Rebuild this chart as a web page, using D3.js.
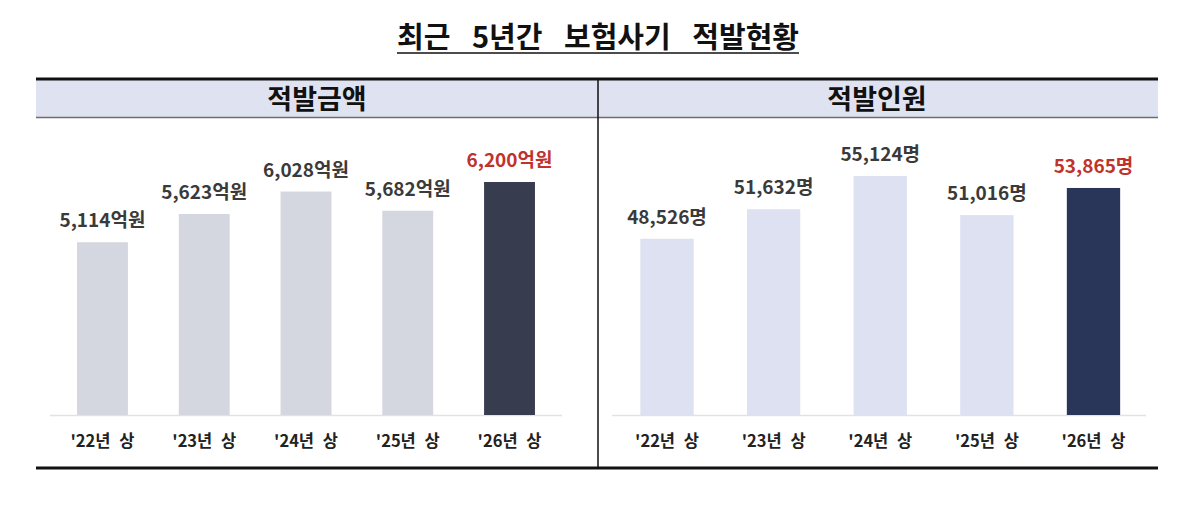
<!DOCTYPE html>
<html>
<head>
<meta charset="utf-8">
<script src="https://cdn.jsdelivr.net/npm/d3@7"></script>
<style>
  body { margin: 0; background: #fff; }
  svg { display: block; font-family: "Noto Sans CJK KR", "Noto Sans", sans-serif; }
</style>
</head>
<body>
<svg width="1198" height="510"></svg>
<script>
// 데이터
var categories = ["'22년 상", "'23년 상", "'24년 상", "'25년 상", "'26년 상"];
var amountValues = [5114, 5623, 6028, 5682, 6200];     // 적발금액 (억원)
var peopleValues = [48526, 51632, 55124, 51016, 53865]; // 적발인원 (명)
var panelTitles = ["적발금액", "적발인원"];
var units = ["억원", "명"];

var svg = d3.select("svg");
var fmt = d3.format(",");

// 제목
var title = svg.append("text")
    .attr("x", 598)
    .attr("y", 48)
    .attr("text-anchor", "middle")
    .attr("font-size", 29)
    .attr("font-weight", 700)
    .attr("fill", "#111")
    .attr("word-spacing", 15)
    .text("최근 5년간 보험사기 적발현황");
var tb = title.node().getBBox();
svg.append("line")
    .attr("x1", tb.x).attr("x2", tb.x + tb.width)
    .attr("y1", 53).attr("y2", 53)
    .attr("stroke", "#111").attr("stroke-width", 1.6);

// 헤더 띠
svg.append("rect")
    .attr("x", 36).attr("y", 80)
    .attr("width", 1122).attr("height", 37)
    .attr("fill", "#dfe2f0");
svg.append("line")
    .attr("x1", 36).attr("x2", 1158).attr("y1", 117.5).attr("y2", 117.5)
    .attr("stroke", "#6e6e6e").attr("stroke-width", 1.5);
svg.append("line")
    .attr("x1", 36).attr("x2", 1158).attr("y1", 79).attr("y2", 79)
    .attr("stroke", "#111").attr("stroke-width", 3);
svg.append("line")
    .attr("x1", 36).attr("x2", 1158).attr("y1", 468).attr("y2", 468)
    .attr("stroke", "#111").attr("stroke-width", 3);
svg.append("line")
    .attr("x1", 598).attr("x2", 598).attr("y1", 79).attr("y2", 468)
    .attr("stroke", "#111").attr("stroke-width", 1.5);

var panels = [
    { values: amountValues, xRange: [51.6, 560.4], yDomain: [2000, 6200], yTop: 182,
      barColor: "#d4d7df", lastColor: "#373c4e", cx: 317, line: [50, 562] },
    { values: peopleValues, xRange: [613.7, 1146.8], yDomain: [30000, 55124], yTop: 176,
      barColor: "#dde1f1", lastColor: "#2a355a", cx: 877, line: [612, 1146] }
];
var baseY = 415;

panels.forEach(function (p, i) {
    var x = d3.scaleBand().domain(categories).range(p.xRange)
        .paddingInner(0.5).paddingOuter(0.25);
    var y = d3.scaleLinear().domain(p.yDomain).range([baseY, p.yTop]);
    var g = svg.append("g");

    g.append("text")
        .attr("x", p.cx).attr("y", 109)
        .attr("text-anchor", "middle")
        .attr("font-size", 27).attr("font-weight", 700).attr("fill", "#111")
        .text(panelTitles[i]);

    // 기준선
    g.append("line")
        .attr("x1", p.line[0]).attr("x2", p.line[1])
        .attr("y1", baseY + 0.5).attr("y2", baseY + 0.5)
        .attr("stroke", "#e2e2e2").attr("stroke-width", 1.5);

    g.selectAll(".bar").data(p.values).enter().append("rect")
        .attr("class", "bar")
        .attr("x", function (d, j) { return x(categories[j]); })
        .attr("y", function (d) { return y(d); })
        .attr("width", x.bandwidth())
        .attr("height", function (d) { return baseY - y(d); })
        .attr("fill", function (d, j) { return j === categories.length - 1 ? p.lastColor : p.barColor; });

    g.selectAll(".val").data(p.values).enter().append("text")
        .attr("class", "val")
        .attr("x", function (d, j) { return x(categories[j]) + x.bandwidth() / 2; })
        .attr("y", function (d) { return y(d) - 15; })
        .attr("text-anchor", "middle")
        .attr("font-size", 19).attr("font-weight", 700)
        .attr("fill", function (d, j) { return j === categories.length - 1 ? "#c0322c" : "#3a3a3a"; })
        .text(function (d) { return fmt(d) + units[i]; });

    // x축 라벨
    var ax = g.append("g")
        .attr("transform", "translate(0," + baseY + ")")
        .call(d3.axisBottom(x).tickSize(0).tickPadding(0));
    ax.select(".domain").remove();
    ax.selectAll("text")
        .attr("y", 32)
        .attr("dy", 0)
        .attr("font-family", "'Noto Sans CJK KR', sans-serif")
        .attr("font-size", 16.5).attr("font-weight", 700).attr("fill", "#222")
        .attr("word-spacing", 5);
});
</script>
</body>
</html>
